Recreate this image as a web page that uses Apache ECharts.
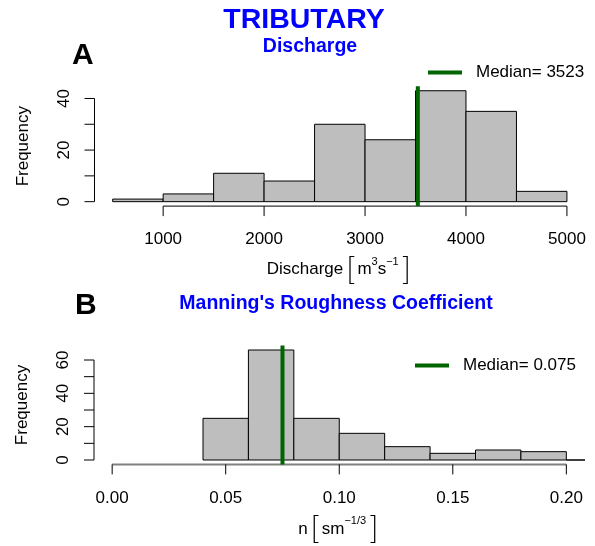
<!DOCTYPE html>
<html>
<head>
<meta charset="utf-8">
<script src="https://cdn.jsdelivr.net/npm/echarts@6/dist/echarts.min.js"></script>
<style>
html,body{margin:0;padding:0;background:#fff;}
#chart{width:595px;height:546px;}
</style>
</head>
<body>
<div id="chart"></div>
<script>
// ---------- data ----------
const mainTitle = 'TRIBUTARY';
const titleA = 'Discharge';
const titleB = "Manning's Roughness Coefficient";

const breaksA = [500, 1000, 1500, 2000, 2500, 3000, 3500, 4000, 4500, 5000];
const countsA = [1, 3, 11, 8, 30, 24, 43, 35, 4];
const medianA = 3523;
const xTicksA = [1000, 2000, 3000, 4000, 5000];
const yTicksA = [0, 10, 20, 30, 40];
const yLabelsA = [0, 20, 40];

const breaksB = [0.04, 0.06, 0.08, 0.10, 0.12, 0.14, 0.16, 0.18, 0.20, 0.22];
const countsB = [25, 66, 25, 16, 8, 4, 6, 5, 0];
const medianB = 0.075;
const xlimB = [0, 0.2];
const xTicksB = [0, 0.05, 0.10, 0.15, 0.20];
const yTicksB = [0, 10, 20, 30, 40, 50, 60];
const yLabelsB = [0, 20, 40, 60];

// ---------- helpers ----------
const FONT = 'Liberation Sans, Arial, Helvetica, sans-serif';
const TICK = 10;
function ext(lo, hi) { const d = (hi - lo) * 0.04; return [lo - d, hi + d]; }
const xRangeA = ext(breaksA[0], breaksA[breaksA.length - 1]);
const yRangeA = ext(0, Math.max(...countsA));
const xRangeB = ext(xlimB[0], xlimB[1]);
const yRangeB = ext(0, Math.max(...countsB));

function binData(breaks, counts) {
  return counts.map((c, i) => [breaks[i], breaks[i + 1], c]);
}

function histSeries(idx, breaks, counts) {
  return {
    type: 'custom', name: 'hist' + idx, xAxisIndex: idx, yAxisIndex: idx,
    clip: true, silent: true,
    data: binData(breaks, counts),
    encode: { x: [0, 1], y: 2 },
    renderItem: function (params, api) {
      const a = api.coord([api.value(0), api.value(2)]);
      const b = api.coord([api.value(1), 0]);
      return {
        type: 'rect',
        shape: { x: a[0], y: a[1], width: b[0] - a[0], height: b[1] - a[1] },
        style: { fill: '#BEBEBE', stroke: '#000', lineWidth: 1 }
      };
    }
  };
}

// R-style axes: lines spanning first..last tick, with outward ticks
function axisLineSeries(idx, xr, yr, xTicks, yTicks, xColor, xWidth) {
  return {
    type: 'custom', xAxisIndex: idx, yAxisIndex: idx, clip: false, silent: true,
    data: [[xTicks[0], yTicks[0]]],
    renderItem: function (params, api) {
      const x0 = api.coord([xTicks[0], yr[0]]);
      const x1 = api.coord([xTicks[xTicks.length - 1], yr[0]]);
      const y0 = api.coord([xr[0], yTicks[0]]);
      const y1 = api.coord([xr[0], yTicks[yTicks.length - 1]]);
      const children = [
        { type: 'line', shape: { x1: x0[0], y1: x0[1], x2: x1[0], y2: x1[1] },
          style: { stroke: xColor, lineWidth: xWidth } },
        { type: 'line', shape: { x1: y0[0], y1: y0[1], x2: y1[0], y2: y1[1] },
          style: { stroke: '#000', lineWidth: 1 } }
      ];
      xTicks.forEach(function (t) {
        const p = api.coord([t, yr[0]]);
        children.push({ type: 'line', shape: { x1: p[0], y1: p[1], x2: p[0], y2: p[1] + TICK },
          style: { stroke: '#000', lineWidth: 1 } });
      });
      yTicks.forEach(function (t) {
        const p = api.coord([xr[0], t]);
        children.push({ type: 'line', shape: { x1: p[0], y1: p[1], x2: p[0] - TICK, y2: p[1] },
          style: { stroke: '#000', lineWidth: 1 } });
      });
      return { type: 'group', children: children };
    }
  };
}

function medianSeries(idx, name, m, yr) {
  return {
    type: 'line', name: name, xAxisIndex: idx, yAxisIndex: idx,
    data: [[m, yr[0]], [m, yr[1]]],
    symbol: 'none', silent: true,
    lineStyle: { color: '#006400', width: 4 },
    itemStyle: { color: '#006400' }
  };
}

function xAxisCfg(idx, range, ticks, fmt, name, nameRich, gap) {
  return {
    type: 'value', gridIndex: idx, min: range[0], max: range[1],
    axisLine: { show: false, onZero: false }, splitLine: { show: false },
    axisTick: { show: false },
    axisLabel: { customValues: ticks, fontSize: 17, color: '#000', fontFamily: FONT, margin: 25,
      formatter: fmt },
    name: name, nameLocation: 'middle', nameGap: gap,
    nameTextStyle: { fontSize: 17, color: '#000', fontFamily: FONT, rich: nameRich }
  };
}

function yAxisCfg(idx, range, ticks, labels) {
  return {
    type: 'value', gridIndex: idx, min: range[0], max: range[1],
    axisLine: { show: false, onZero: false }, splitLine: { show: false },
    axisTick: { show: false },
    axisLabel: { customValues: labels, rotate: 90, fontSize: 17, color: '#000', fontFamily: FONT, margin: 22 },
    name: 'Frequency', nameLocation: 'middle', nameGap: 63, nameRotate: 90,
    nameTextStyle: { fontSize: 17, color: '#000', fontFamily: FONT }
  };
}

const richName = {
  b: { fontSize: 31, fontFamily: 'Lato, ' + FONT, fontWeight: 300, color: '#000', padding: [0, 2, 0, 3], verticalAlign: 'middle' },
  t: { fontSize: 17, fontFamily: FONT, color: '#000', verticalAlign: 'middle' },
  s: { fontSize: 11, fontFamily: FONT, color: '#000', verticalAlign: 'top', padding: [2, 0, 0, 0] }
};

const medNameA = 'Median= ' + medianA;
const medNameB = 'Median= ' + medianB;

const option = {
  animation: false,
  backgroundColor: '#fff',
  title: [
    { text: mainTitle, left: 304, top: 6, textAlign: 'center', padding: 0,
      textStyle: { fontSize: 28.5, fontWeight: 'bold', color: '#0000FF', fontFamily: FONT } },
    { text: titleA, left: 310, top: 36.5, textAlign: 'center', padding: 0,
      textStyle: { fontSize: 19.5, fontWeight: 'bold', color: '#0000FF', fontFamily: FONT } },
    { text: 'A', left: 72, top: 41, padding: 0,
      textStyle: { fontSize: 30, fontWeight: 'bold', color: '#000', fontFamily: FONT } },
    { text: titleB, left: 336, top: 294, textAlign: 'center', padding: 0,
      textStyle: { fontSize: 19.5, fontWeight: 'bold', color: '#0000FF', fontFamily: FONT } },
    { text: 'B', left: 75, top: 290.5, padding: 0,
      textStyle: { fontSize: 30, fontWeight: 'bold', color: '#000', fontFamily: FONT } }
  ],
  legend: [
    { data: [medNameA], left: 428, top: 64, padding: 0, icon: 'rect', itemWidth: 34, itemHeight: 4,
      textStyle: { fontSize: 17, color: '#000', fontFamily: FONT, padding: [0, 0, 0, 9] } },
    { data: [medNameB], left: 415, top: 357, padding: 0, icon: 'rect', itemWidth: 34, itemHeight: 4,
      textStyle: { fontSize: 17, color: '#000', fontFamily: FONT, padding: [0, 0, 0, 9] } }
  ],
  grid: [
    { left: 94.5, top: 86.3, width: 490.6, height: 119.8 },
    { left: 94, top: 345.6, width: 490.5, height: 118.8 }
  ],
  xAxis: [
    xAxisCfg(0, xRangeA, xTicksA, v => String(v), 'Discharge{b|[}{t|m}{s|3}{t|s}{s|−1}{b|]}', richName, 48),
    xAxisCfg(1, xRangeB, xTicksB, v => Number(v).toFixed(2), 'n{b|[}{t|sm}{s|−1/3}{b|]}', richName, 49)
  ],
  yAxis: [
    yAxisCfg(0, yRangeA, yTicksA, yLabelsA),
    yAxisCfg(1, yRangeB, yTicksB, yLabelsB)
  ],
  series: [
    histSeries(0, breaksA, countsA),
    medianSeries(0, medNameA, medianA, yRangeA),
    axisLineSeries(0, xRangeA, yRangeA, xTicksA, yTicksA, '#000', 1),
    histSeries(1, breaksB, countsB),
    medianSeries(1, medNameB, medianB, yRangeB),
    axisLineSeries(1, xRangeB, yRangeB, xTicksB, yTicksB, '#808080', 2)
  ]
};

const chart = echarts.init(document.getElementById('chart'), null, { renderer: 'canvas' });
chart.setOption(option);
</script>
</body>
</html>
